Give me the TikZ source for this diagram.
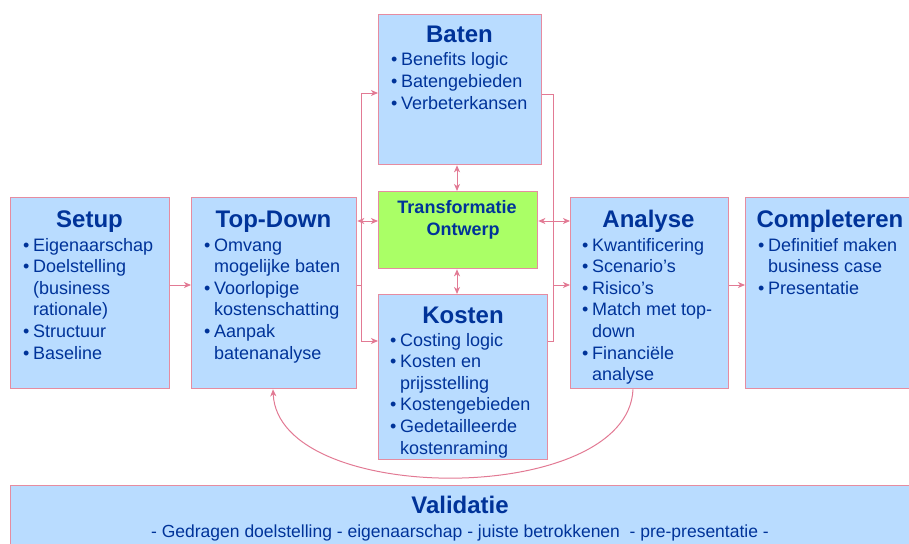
\documentclass[tikz,border=0pt]{standalone}
\usepackage{fontspec}
\setmainfont{Liberation Sans}
\usetikzlibrary{arrows.meta}
\definecolor{boxfill}{RGB}{185,220,255}
\definecolor{boxedge}{RGB}{230,140,160}
\definecolor{connc}{RGB}{226,122,148}
\definecolor{tblue}{RGB}{0,51,153}
\definecolor{tgreen}{RGB}{170,255,102}
\newcommand{\bul}{\makebox[10pt][l]{•}}
\newcommand{\ind}{\hspace*{10pt}}
\begin{document}
\begin{tikzpicture}[x=1pt,y=-1pt,
  box/.style={draw=boxedge, line width=1.3pt, fill=boxfill, inner sep=0, anchor=north west},
  ttl/.style={anchor=base, inner sep=0, text=tblue, font=\fontsize{24}{28}\selectfont\bfseries},
  body/.style={anchor=base west, inner sep=0, text=tblue, font=\fontsize{18}{21.6}\selectfont},
  conn/.style={draw=connc, line width=1pt},
  tip/.style={arrows={-Stealth[length=7pt,width=6pt,inset=2pt]}},
  dtip/.style={arrows={Stealth[length=7pt,width=6pt,inset=2pt]-Stealth[length=7pt,width=6pt,inset=2pt]}},
]
\useasboundingbox (0,0) rectangle (909,543);
\clip (0,0) rectangle (909,543);

% boxes
\node[box, minimum width=159pt, minimum height=191pt] (setup) at (10,197) {};
\node[box, minimum width=165pt, minimum height=191pt] (topdown) at (191,197) {};
\node[box, minimum width=163pt, minimum height=150pt] (baten) at (378,14) {};
\node[box, minimum width=159pt, minimum height=77pt, fill=tgreen] (trans) at (378,191) {};
\node[box, minimum width=169pt, minimum height=165pt] (kosten) at (378,294) {};
\node[box, minimum width=158pt, minimum height=191pt] (analyse) at (570,197) {};
\node[box, minimum width=172pt, minimum height=191pt] (compl) at (745,197) {};
\node[box, minimum width=910pt, minimum height=70pt] (valid) at (10,485) {};

% titles
\node[ttl] (setupt) at (89.5,227) {Setup};
\node[ttl] (topdownt) at (273.5,227) {Top-Down};
\node[ttl] (batent) at (459.5,43) {Baten};
\node[ttl] (kostent) at (463,323) {Kosten};
\node[ttl] (analyset) at (648.5,227) {Analyse};
\node[ttl] (complt) at (830,227) {Completeren};
\node[ttl] (validt) at (460,513) {Validatie};
\node[anchor=base, inner sep=0, text=tblue, font=\fontsize{18}{22}\selectfont\bfseries] (transt1) at (457,213) {Transformatie};
\node[anchor=base, inner sep=0, text=tblue, font=\fontsize{18}{22}\selectfont\bfseries] (transt2) at (463,235) {Ontwerp};
\node[anchor=base, inner sep=0, text=tblue, font=\fontsize{17.5}{21}\selectfont] (validb) at (460,537) {- Gedragen doelstelling - eigenaarschap - juiste betrokkenen \ - pre-presentatie -};

% bodies
\node[body] (setupb) at (23,251) {\parbox[t]{150pt}{\raggedright
\bul Eigenaarschap\\ \bul Doelstelling\\ \ind(business\\ \ind rationale)\\ \bul Structuur\\ \bul Baseline}};
\node[body] (topdownb) at (204,251) {\parbox[t]{150pt}{\raggedright
\bul Omvang\\ \ind mogelijke baten\\ \bul Voorlopige\\ \ind kostenschatting\\ \bul Aanpak\\ \ind batenanalyse}};
\node[body] (batenb) at (391,66) {\parbox[t]{150pt}{\raggedright
\bul Benefits logic\\ \bul Batengebieden\\ \bul Verbeterkansen}};
\node[body] (kostenb) at (390,346) {\parbox[t]{155pt}{\raggedright
\bul Costing logic\\ \bul Kosten en\\ \ind prijsstelling\\ \bul Kostengebieden\\ \bul Gedetailleerde\\ \ind kostenraming}};
\node[body] (analyseb) at (582,251) {\parbox[t]{150pt}{\raggedright
\bul Kwantificering\\ \bul Scenario’s\\ \bul Risico’s\\ \bul Match met top-\\ \ind down\\ \bul Financiële\\ \ind analyse}};
\node[body] (complb) at (758,251) {\parbox[t]{150pt}{\raggedright
\bul Definitief maken\\ \ind business case\\ \bul Presentatie}};

% connector coordinates
\coordinate (L1) at (361,93);
\coordinate (L2) at (361,341);
\coordinate (L3) at (361,285);
\coordinate (R1) at (553,94);
\coordinate (R2) at (553,341);
\coordinate (R3) at (553,285);
\coordinate (TY) at (457,221);
\coordinate (CA) at (633,0);
\coordinate (CT) at (273,0);

% left bus
\draw[conn] (L1) -- (L2);
\draw[conn,tip] (L1) -- (L1 -| baten.west);
\draw[conn,tip] (L2) -- (L2 -| kosten.west);
\draw[conn] (topdown.east |- L3) -- (L3);
\draw[conn,dtip] (topdown.east |- TY) -- (trans.west |- TY);

% right bus
\draw[conn] (baten.east |- R1) -- (R1) -- (R2) -- (kosten.east |- R2);
\draw[conn,tip] (R3) -- (R3 -| analyse.west);
\draw[conn,dtip] (trans.east |- TY) -- (analyse.west |- TY);

% vertical double arrows
\draw[conn,dtip] (baten.south -| TY) -- (trans.north -| TY);
\draw[conn,dtip] (trans.south -| TY) -- (kosten.north -| TY);

% horizontal flow
\draw[conn,tip] (setup.east |- R3) -- (topdown.west |- R3);
\draw[conn,tip] (analyse.east |- R3) -- (compl.west |- R3);

% feedback curve
\draw[conn,tip] (analyse.south -| CA) .. controls (628,507) and (278,507) .. (topdown.south -| CT);
\end{tikzpicture}
\end{document}
